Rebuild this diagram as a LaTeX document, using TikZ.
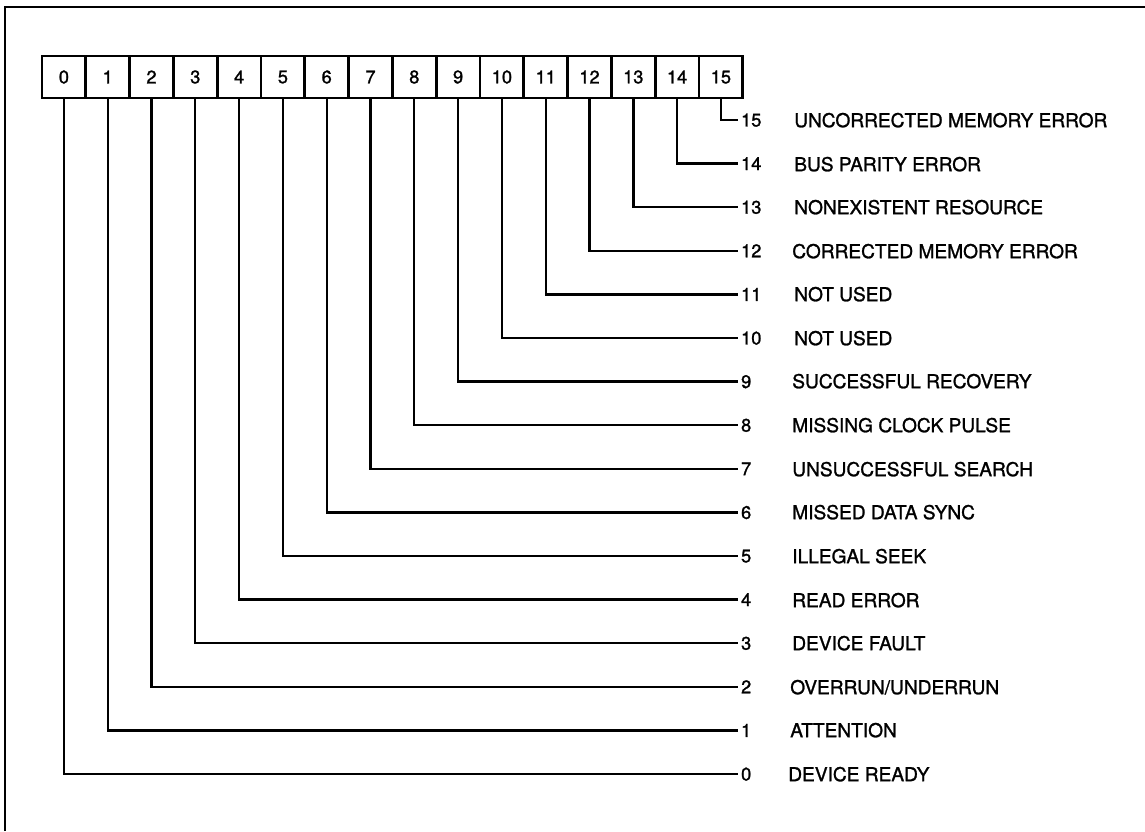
\documentclass[tikz,border=0pt]{standalone}
\usepackage{fontspec}
\setmainfont{TeX Gyre Heros}
\newfontfamily\regfont[FakeBold=1.3]{TeX Gyre Heros}
\tikzset{
  bitcell/.style={draw,line width=1.9pt,minimum width=1.095cm,minimum height=1.05cm,inner sep=0pt,font=\regfont\fontsize{13}{15}\selectfont},
  bitnum/.style={anchor=west,inner sep=2pt,text depth=0pt,font=\regfont\fontsize{13}{15}\selectfont},
  bittext/.style={anchor=west,inner sep=0pt,text depth=0pt,font=\regfont\fontsize{13.6}{16}\selectfont},
  wire/.style={line width=1.7pt}
}

\begin{document}
\begin{tikzpicture}[x=0.025cm,y=-0.025cm]
\useasboundingbox (0,0) rectangle (1145,831);
\draw[line width=1.5pt] (5,831)--(5,7)--(1145,7);
% register cells
\foreach \i in {0,...,15}
  \node[bitcell] (b\i) at (63.9+43.8*\i,77) {\i};
% bit numbers at the line ends
\foreach \i in {0,...,15}
  \node[bitnum] (n\i) at (738,774-43.6*\i) {\i};
% meanings
\node[bittext] (t15) at (794,120) {UNCORRECTED MEMORY ERROR};
\node[bittext] (t14) at (794,164) {BUS PARITY ERROR};
\node[bittext] (t13) at (794,207) {NONEXISTENT RESOURCE};
\node[bittext] (t12) at (792,251) {CORRECTED MEMORY ERROR};
\node[bittext] (t11) at (794,294) {NOT USED};
\node[bittext] (t10) at (794,338) {NOT USED};
\node[bittext] (t9) at (792,381) {SUCCESSFUL RECOVERY};
\node[bittext] (t8) at (792,425) {MISSING CLOCK PULSE};
\node[bittext] (t7) at (792,469) {UNSUCCESSFUL SEARCH};
\node[bittext] (t6) at (792,512) {MISSED DATA SYNC};
\node[bittext] (t5) at (792,556) {ILLEGAL SEEK};
\node[bittext] (t4) at (792,600) {READ ERROR};
\node[bittext] (t3) at (792,643) {DEVICE FAULT};
\node[bittext] (t2) at (790,687) {OVERRUN/UNDERRUN};
\node[bittext] (t1) at (790,730) {ATTENTION};
\node[bittext] (t0) at (788,774) {DEVICE READY};
% connectors
\foreach \i in {0,...,15}
  \draw[wire] (b\i.south) |- (n\i.west);
\end{tikzpicture}
\end{document}
